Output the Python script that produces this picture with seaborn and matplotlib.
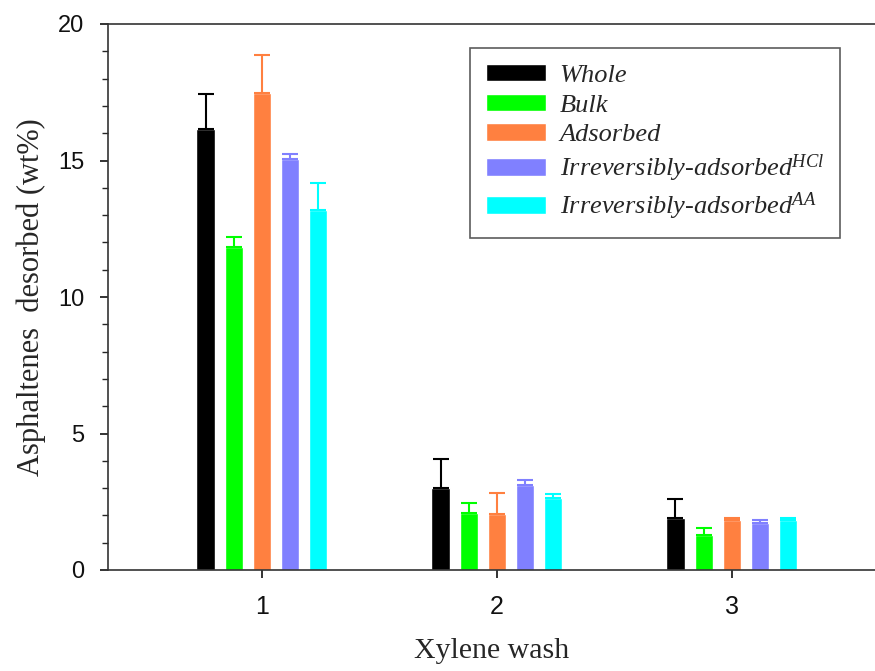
import numpy as np
import pandas as pd
import matplotlib
matplotlib.use("Agg")
import matplotlib.pyplot as plt
import seaborn as sns

# Data
washes = ["1", "2", "3"]
series = ["Whole", "Bulk", "Adsorbed",
          "Irreversibly-adsorbed$^{HCl}$", "Irreversibly-adsorbed$^{AA}$"]
colors = ["#000000", "#00FF00", "#FF8040", "#8080FF", "#00FFFF"]

whole = [16.15, 3.00, 1.90]
bulk = [11.82, 2.10, 1.27]
adsorbed = [17.48, 2.04, 1.83]
irrev_hcl = [15.06, 3.13, 1.71]
irrev_aa = [13.17, 2.63, 1.84]

whole_err = [1.28, 1.05, 0.69]
bulk_err = [0.37, 0.37, 0.28]
adsorbed_err = [1.40, 0.79, 0.09]
irrev_hcl_err = [0.19, 0.17, 0.13]
irrev_aa_err = [1.00, 0.17, 0.06]

values = [whole, bulk, adsorbed, irrev_hcl, irrev_aa]
errors = [whole_err, bulk_err, adsorbed_err, irrev_hcl_err, irrev_aa_err]

rows = []
for name, vals, errs in zip(series, values, errors):
    for w, v, e in zip(washes, vals, errs):
        rows.append({"wash": w, "sample": name, "value": v, "err": e})
df = pd.DataFrame(rows)

sns.set_style("ticks")
plt.rcParams["mathtext.fontset"] = "custom"
plt.rcParams["mathtext.rm"] = "Liberation Serif"
plt.rcParams["mathtext.it"] = "Liberation Serif:italic"

fig = plt.figure(figsize=(8.75, 6.71), dpi=100)
ax = fig.add_axes([108 / 875, 1 - 570 / 671, 1 - 108 / 875, (570 - 24) / 671])

sns.barplot(data=df, x="wash", y="value", hue="sample", hue_order=series,
            palette=colors, width=0.6, gap=0.36, saturation=1,
            legend=False, ax=ax)

# Upward-only error bars with caps
for cont, name, col in zip(ax.containers, series, colors):
    sub = df[df["sample"] == name]
    xs = [b.get_x() + b.get_width() / 2 for b in cont]
    hs = [b.get_height() for b in cont]
    ax.errorbar(xs, hs, yerr=[np.zeros(len(hs)), sub["err"].values],
                fmt="none", ecolor=col, elinewidth=1.5, capsize=6,
                capthick=1.5, zorder=1)

ax.set_ylim(0, 20)
ax.set_xlim(-0.655, 2.609)
ax.set_yticks([0, 5, 10, 15, 20])
ax.set_yticks(np.arange(0, 21, 1), minor=True)

ax.spines["right"].set_visible(False)
for s in ["left", "bottom", "top"]:
    ax.spines[s].set_color("#333333")
    ax.spines[s].set_linewidth(1.2)

ax.tick_params(axis="y", which="major", direction="out", length=6, width=1.2,
               pad=11, labelsize=17, colors="#111111")
ax.tick_params(axis="y", which="minor", direction="out", length=4, width=1)
ax.tick_params(axis="x", direction="out", length=6, width=1.2, pad=12,
               labelsize=18, colors="#111111")
for lab in ax.get_xticklabels() + ax.get_yticklabels():
    lab.set_fontfamily("Liberation Sans")

ax.set_xlabel("Xylene wash", family="Liberation Serif", fontsize=21.5,
              labelpad=14)
ax.set_ylabel("Asphaltenes  desorbed (wt%)", family="Liberation Serif",
              fontsize=22, labelpad=9)

leg = ax.legend(ax.containers, series, loc="upper right",
                bbox_to_anchor=(0.954, 0.956), borderaxespad=0,
                prop=dict(family="Liberation Serif", style="italic", size=19),
                frameon=True, fancybox=False, edgecolor="#333333",
                handlelength=2.27, handleheight=0.65, labelspacing=0.25,
                handletextpad=0.53, borderpad=0.6)
leg.get_frame().set_linewidth(1.2)

fig.savefig("out.png", dpi=100)
